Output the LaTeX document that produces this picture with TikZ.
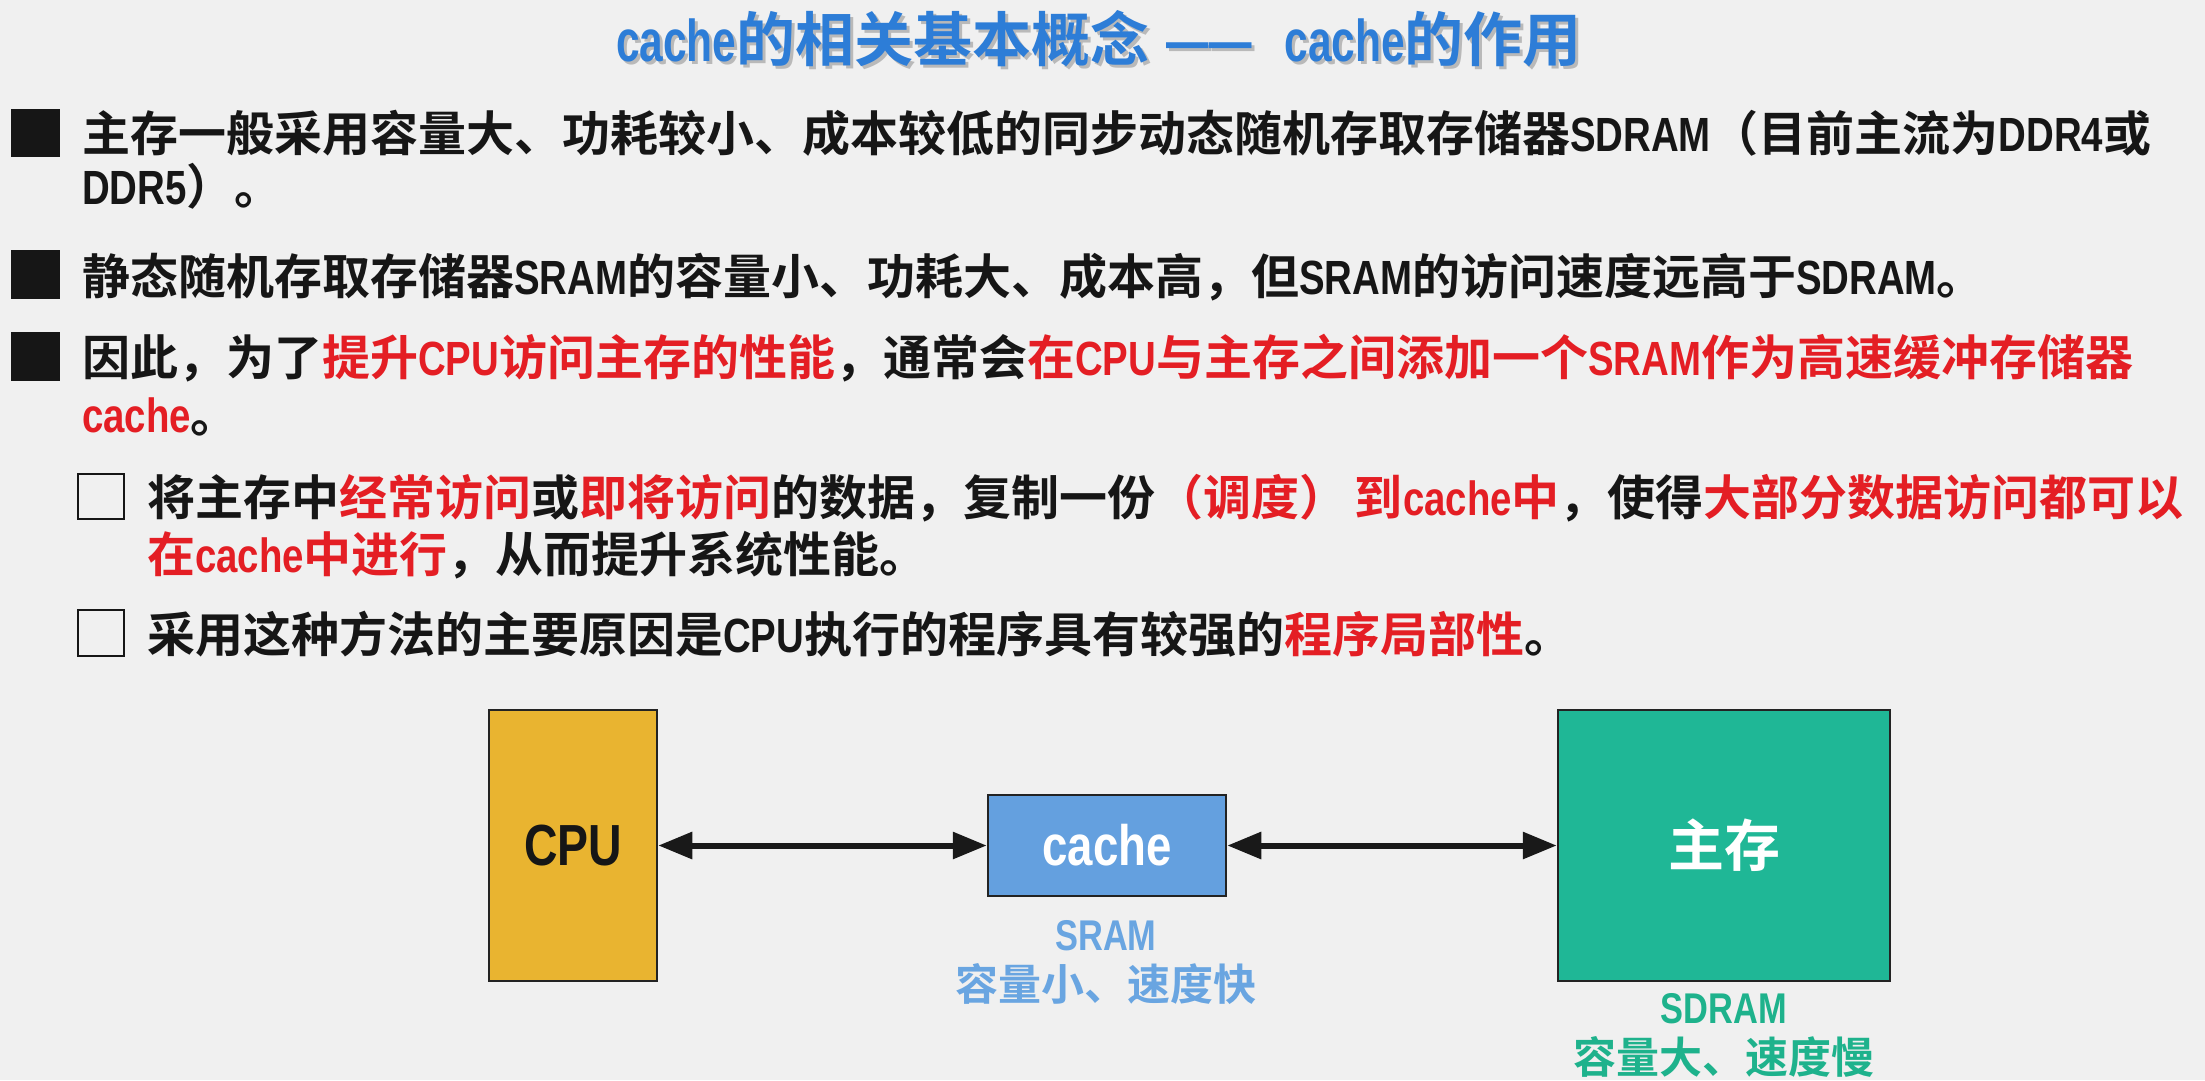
\documentclass[tikz,border=0pt]{standalone}
\usepackage{fontspec}
\usetikzlibrary{arrows.meta}
\setmainfont{Noto Sans CJK SC Bold}
\newfontfamily\latf{Liberation Sans Bold}[FakeStretch=0.8]
\newfontfamily\latt{Liberation Sans Bold}[FakeStretch=0.72]
\newcommand\lat[1]{{\latf #1}}
\newcommand\titletext{{\latt cache}的相关基本概念\hspace{17pt}{\latt ——}\hspace{33pt}{\latt cache}的作用}
\definecolor{bgc}{RGB}{240,240,240}
\definecolor{txt}{RGB}{22,22,22}
\definecolor{myred}{RGB}{228,30,36}
\definecolor{titleblue}{RGB}{45,125,215}
\definecolor{cpufill}{RGB}{233,180,48}
\definecolor{cachefill}{RGB}{100,160,223}
\definecolor{mainfill}{RGB}{31,183,150}
\definecolor{sramc}{RGB}{105,165,225}
\definecolor{sdramc}{RGB}{30,178,140}
\definecolor{edge}{RGB}{35,35,35}
\newcommand\hl[1]{\textcolor{myred}{#1}}
\tikzset{
  bodyline/.style={anchor=base west, inner sep=0pt, outer sep=0pt, text=txt,
    font=\fontsize{48}{48}\selectfont},
  titlestyle/.style={anchor=base, inner sep=0pt, font=\fontsize{59}{59}\selectfont},
  unitbox/.style={draw=edge, line width=2.5pt, inner sep=0pt, anchor=center},
  lbl/.style={anchor=base, inner sep=0pt, font=\fontsize{43}{43}\selectfont},
  biarrow/.style={line width=6pt, draw=black!90,
    {Triangle[length=34pt,width=26pt]}-{Triangle[length=34pt,width=26pt]}},
  filledbullet/.style={fill=txt},
  hollowbullet/.style={draw=txt, line width=2.5pt},
}
\begin{document}
\begin{tikzpicture}[x=1pt,y=-1pt]
\fill[bgc] (0,0) rectangle (2205,1080);
\useasboundingbox (0,0) rectangle (2205,1080);

% title
\node[titlestyle, text=black!45, opacity=0.55] (titleshadow) at (1102,64.5) {\titletext};
\node[titlestyle, text=titleblue] (title) at (1099,61.5) {\titletext};

% bullets
\fill[filledbullet] (11,109) rectangle (60,157);
\fill[filledbullet] (11,250) rectangle (60,299);
\fill[filledbullet] (11,332) rectangle (60,381);
\draw[hollowbullet] (78,474) rectangle (124,519);
\draw[hollowbullet] (78,610) rectangle (124,656);

% body text
\node[bodyline] (l1) at (82,151) {主存一般采用容量大、功耗较小、成本较低的同步动态随机存取存储器\lat{SDRAM}（目前主流为\lat{DDR4}或};
\node[bodyline] (l2) at (82,204) {\lat{DDR5}）。};
\node[bodyline] (l3) at (82,294) {静态随机存取存储器\lat{SRAM}的容量小、功耗大、成本高，但\lat{SRAM}的访问速度远高于\lat{SDRAM}。};
\node[bodyline] (l4) at (82,375) {因此，为了\hl{提升\lat{CPU}访问主存的性能}，通常会\hl{在\lat{CPU}与主存之间添加一个\lat{SRAM}作为高速缓冲存储器}};
\node[bodyline] (l5) at (82,432) {\hl{\lat{cache}}。};
\node[bodyline] (s1a) at (147,515) {将主存中\hl{经常访问}或\hl{即将访问}的数据，复制一份\hl{（调度）\hspace{8pt}到\lat{cache}中}，使得\hl{大部分数据访问都可以}};
\node[bodyline] (s1b) at (147,572) {\hl{在\lat{cache}中进行}，从而提升系统性能。};
\node[bodyline] (s2) at (147,652) {采用这种方法的主要原因是\lat{CPU}执行的程序具有较强的\hl{程序局部性}。};

% diagram
\node[unitbox, fill=cpufill, minimum width=168pt, minimum height=271pt,
  text=txt, font=\fontsize{58}{58}\selectfont\latf] (cpu) at (573,845.5) {CPU};
\node[unitbox, fill=cachefill, minimum width=238pt, minimum height=101pt,
  text=white, font=\fontsize{57}{57}\selectfont\latf] (cache) at (1107,845.5) {cache};
\node[unitbox, fill=mainfill, minimum width=332pt, minimum height=271pt,
  text=white, font=\fontsize{56}{56}\selectfont] (mem) at (1724,845.5) {主存};

\draw[biarrow] (cpu.east) -- (cache.west);
\draw[biarrow] (cache.east) -- (mem.west);

\node[lbl, text=sramc] (sram1) at (1106,950) {\lat{SRAM}};
\node[lbl, text=sramc] (sram2) at (1106,1000) {容量小、速度快};
\node[lbl, text=sdramc] (sdram1) at (1724,1023) {\lat{SDRAM}};
\node[lbl, text=sdramc] (sdram2) at (1724,1073) {容量大、速度慢};
\end{tikzpicture}
\end{document}
